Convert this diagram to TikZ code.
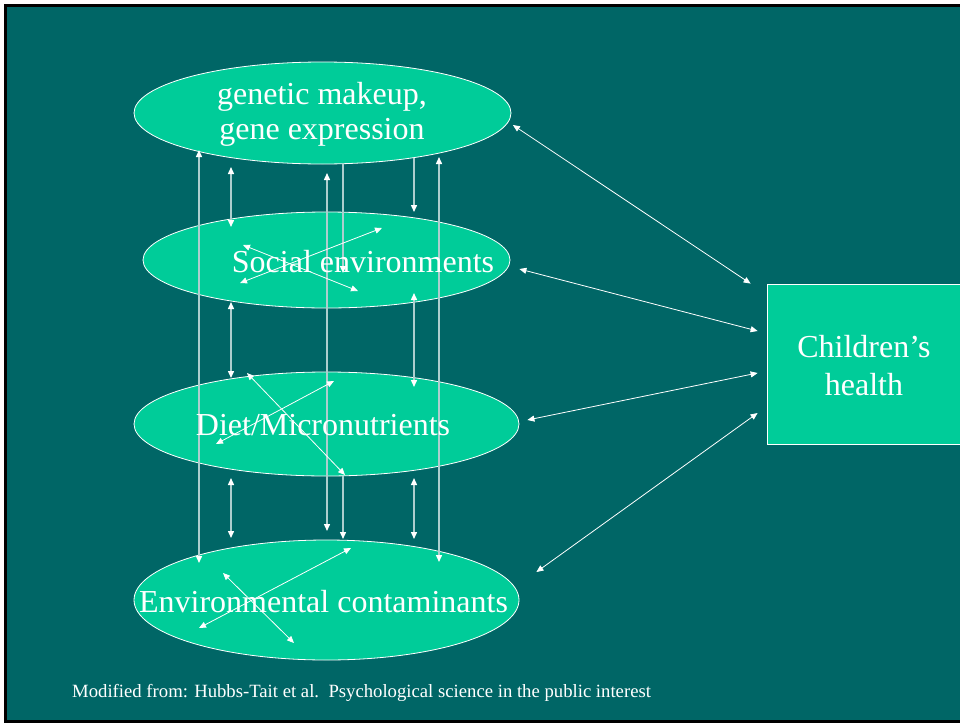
\documentclass[tikz,border=0pt]{standalone}
\usepackage{fontspec}
\setmainfont{Liberation Serif}
\usetikzlibrary{shapes.geometric,arrows.meta}
\definecolor{slide}{HTML}{006666}
\definecolor{blobgreen}{HTML}{00CC99}
\colorlet{rod}{white!68!slide}

\begin{document}
\begin{tikzpicture}[x=1pt,y=-1pt]
	\tikzset{
		blob/.style={ellipse, draw=white, line width=0.8pt, fill=blobgreen, inner sep=0pt},
		big/.style={text=white, font=\fontsize{32}{35}\selectfont, align=center, anchor=base, inner sep=0pt},
		foot/.style={text=white, font=\fontsize{18.7}{20}\selectfont, anchor=base west, inner sep=0pt},
		both/.style={{Triangle[length=7pt,width=6pt]}-{Triangle[length=7pt,width=6pt]}, white, line width=0.8pt},
		rodboth/.style={{Triangle[length=7pt,width=6pt,color=white]}-{Triangle[length=7pt,width=6pt,color=white]}, rod, line width=1.4pt},
		rodone/.style={-{Triangle[length=7pt,width=6pt,color=white]}, rod, line width=1.4pt}
	}
	\useasboundingbox (0,0) rectangle (960,723);
	\fill[white] (0,0) rectangle (960,723);
	\draw[black, line width=3pt, fill=slide] (5.5,5.5) rectangle (966,721.5);

	\node[blob, minimum width=377pt, minimum height=102pt] (gen) at (322.5,113) {};
	\node[blob, minimum width=367pt, minimum height=96pt] (soc) at (326.5,260) {};
	\node[blob, minimum width=385pt, minimum height=104pt] (diet) at (326.5,424) {};
	\node[blob, minimum width=385pt, minimum height=120pt] (env) at (326.5,600) {};
	\node[draw=white, line width=0.8pt, fill=blobgreen, minimum width=195pt, minimum height=160pt, inner sep=0pt] (kids) at (864.5,364) {};

	\foreach \p/\a/\q/\b in {gen/{-123.5,37}/env/{-127.5,-37}, gen/{-91.5,54}/soc/{-95.5,-33},
			soc/{-95.5,42}/diet/{-95.5,-46}, diet/{-95.5,54}/env/{-95.5,-62},
			gen/{4.5,60}/env/{0.5,-69}, soc/{87.5,33}/diet/{87.5,-37},
			diet/{87.5,54}/env/{87.5,-61}, gen/{116.5,44}/env/{112.5,-38}}
		\draw[rodboth] ([shift={(\a)}]\p.center) -- ([shift={(\b)}]\q.center);
	\foreach \p/\a/\q/\b in {gen/{20.5,51}/soc/{16.5,13}, diet/{16.5,52}/env/{16.5,-61},
			gen/{91.5,45}/soc/{87.5,-48}}
		\draw[rodone] ([shift={(\a)}]\p.center) -- ([shift={(\b)}]\q.center);

	\foreach \p/\a/\b in {soc/{-83.5,-15}/{31.5,31}, soc/{-86.5,23}/{55.5,-32},
			diet/{-79.5,-51}/{18.5,51}, diet/{-110.5,20}/{7.5,-43},
			env/{-103.5,-27}/{-32.5,43}, env/{-127.5,28}/{24.5,-52}}
		\draw[both] ([shift={(\a)}]\p.center) -- ([shift={(\b)}]\p.center);

	\draw[both] ([shift={(1.5,12)}]gen.east) -- ([shift={(-16,0)}]kids.north west);
	\draw[both] ([shift={(9,9)}]soc.east) -- ([shift={(-9,-33)}]kids.west);
	\draw[both] ([shift={(8,-4)}]diet.east) -- ([shift={(-9,9)}]kids.west);
	\draw[both] ([shift={(17,-28)}]env.east) -- ([shift={(-9,49)}]kids.west);

	\node[big] (gentext) at (322,139) {genetic makeup,\\gene expression};
	\node[big] (soctext) at (363,272) {Social environments};
	\node[big] (diettext) at (323,435) {Diet/Micronutrients};
	\node[big] (envtext) at (323.5,612) {Environmental contaminants};
	\node[big, font=\fontsize{32}{38}\selectfont] (kidtext) at (864,395) {Children’s\\health};
	\node[foot] (source) at (72,697) {Modified from: Hubbs-Tait et al.\ \ Psychological science in the public interest};
\end{tikzpicture}
\end{document}
